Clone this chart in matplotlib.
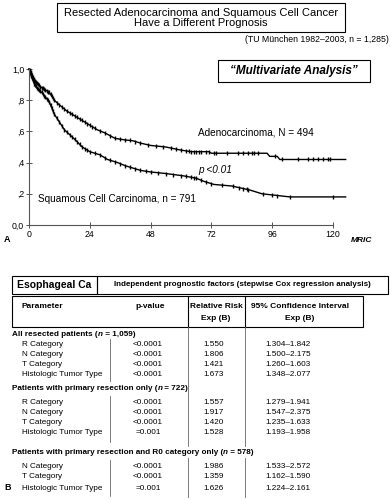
import numpy as np
import matplotlib
matplotlib.use('Agg')
import matplotlib.pyplot as plt
from matplotlib.patches import Rectangle
from matplotlib.lines import Line2D

plt.rcParams['font.family'] = ['Liberation Sans', 'DejaVu Sans']

# survival curves (months, cumulative survival)
adeno_t = [0, 1, 2, 3, 5, 8, 10, 12, 15, 18, 21, 24, 27, 30, 34, 38, 41, 44, 48, 54, 60, 64,
           71, 72, 94, 95, 98, 99, 125]
adeno_s = [1.0, 0.97, 0.93, 0.91, 0.88, 0.85, 0.80, 0.77, 0.73, 0.70, 0.67, 0.64, 0.61, 0.59,
           0.555, 0.545, 0.54, 0.525, 0.51, 0.50, 0.48, 0.47, 0.47, 0.46, 0.46, 0.44, 0.44, 0.42, 0.42]
squam_t = [0, 1, 2, 3, 5, 6, 8, 10, 12, 14, 16, 18, 21, 24, 28, 31, 35, 38, 41, 44, 48, 54, 61,
           66, 69, 73, 80, 87, 92, 103, 125]
squam_s = [1.0, 0.95, 0.91, 0.88, 0.85, 0.83, 0.79, 0.71, 0.66, 0.61, 0.58, 0.55, 0.50, 0.47,
           0.45, 0.42, 0.40, 0.38, 0.365, 0.35, 0.34, 0.33, 0.315, 0.30, 0.28, 0.26, 0.25, 0.225,
           0.20, 0.18, 0.18]
# censored observations (months)
adeno_cens = [0.3, 0.6, 0.9, 1.2, 1.5, 1.8, 2.1, 2.4, 2.7, 3, 3.5, 4, 4.5, 5, 5.5, 6, 6.5, 7, 7.5,
              8, 8.5, 9, 9.5, 10, 11, 12, 13, 14, 15, 16, 17, 18, 19, 20, 21, 22, 23, 24, 25, 26,
              28, 30, 32, 34, 36, 38, 40, 42, 44, 47, 50, 53, 56, 58, 60, 62, 63, 64, 65, 66, 67,
              68, 70, 71, 73, 74, 78, 82.5, 84.5, 86.5, 88, 89, 90.5, 97, 100, 106, 110, 112, 114,
              116, 118, 119]
squam_cens = [0.3, 0.6, 0.9, 1.2, 1.5, 1.8, 2.1, 2.4, 2.7, 3, 3.5, 4, 4.5, 5, 5.5, 6, 6.5, 7, 7.5,
              8, 8.5, 9, 9.5, 10, 11, 12, 13, 14, 15, 16, 17, 18, 19, 20, 21, 22, 23, 24, 26, 28,
              30, 32, 34, 36, 38, 40, 42, 44, 46, 48, 51, 54, 57, 60, 62, 64, 65, 66, 68, 70, 72,
              76, 80.5, 83, 84.5, 86, 86.5, 92.5, 96, 98, 103, 120]

x_ticks = [0, 24, 48, 72, 96, 120]
y_ticks = [0.0, 0.2, 0.4, 0.6, 0.8, 1.0]
y_ticklabels = ['0,0', ',2', ',4', ',6', ',8', '1,0']

# table contents
group_titles = ['All resected patients (', 'Patients with primary resection only (',
                'Patients with primary resection and R0 category only (']
group_n = [' = 1,059)', ' = 722)', ' = 578)']
params = [['R Category', 'N Category', 'T Category', 'Histologic Tumor Type'],
          ['R Category', 'N Category', 'T Category', 'Histologic Tumor Type'],
          ['N Category', 'T Category', 'Histologic Tumor Type']]
pvals = [['<0.0001', '<0.0001', '<0.0001', '<0.0001'],
         ['<0.0001', '<0.0001', '<0.0001', '=0.001'],
         ['<0.0001', '<0.0001', '=0.001']]
rel_risk = [['1.550', '1.806', '1.421', '1.673'],
            ['1.557', '1.917', '1.420', '1.528'],
            ['1.986', '1.359', '1.626']]
conf_int = [['1.304\u20131.842', '1.500\u20132.175', '1.260\u20131.603', '1.348\u20132.077'],
            ['1.279\u20131.941', '1.547\u20132.375', '1.235\u20131.633', '1.193\u20131.958'],
            ['1.533\u20132.572', '1.162\u20131.590', '1.224\u20132.161']]

W, H = 391, 500
fig = plt.figure(figsize=(W / 100, H / 100), dpi=100)


def fx(x):
    return x / W


def fy(y):
    return 1 - y / H


def box(x0, y0, x1, y1, lw=0.8):
    fig.add_artist(Rectangle((fx(x0), fy(y1)), (x1 - x0) / W, (y1 - y0) / H,
                             transform=fig.transFigure, fill=False, lw=lw, ec='black'))


def vline(x, y0, y1, lw=0.6, color='#666666'):
    fig.add_artist(Line2D([fx(x), fx(x)], [fy(y0), fy(y1)], transform=fig.transFigure,
                          lw=lw, color=color))


# ---- panel A ----
box(57, 3, 345, 32)
fig.text(fx(201), fy(18), 'Resected Adenocarcinoma and Squamous Cell Cancer\nHave a Different Prognosis',
         ha='center', va='center', fontsize=8.0, linespacing=1.0)
fig.text(fx(389), fy(40), '(TU M\u00fcnchen 1982\u20132003, n = 1,285)', ha='right', va='center',
         fontsize=6.3)
box(218, 60, 370, 82)
fig.text(fx(294), fy(71), '\u201cMultivariate Analysis\u201d', ha='center', va='center',
         fontsize=8.5, fontweight='bold', fontstyle='italic')

px_per_month = (333 - 29) / 120
ax = fig.add_axes([fx(29), fy(225), 125 * px_per_month / W, 156 / H])
ax.set_xlim(0, 125)
ax.set_ylim(0, 1)
for t, s, c in [(adeno_t, adeno_s, adeno_cens), (squam_t, squam_s, squam_cens)]:
    ax.plot(t, s, color='black', lw=1.0, clip_on=False)
    ax.plot(c, np.interp(c, t, s), ls='none', marker='|', ms=3.4, mew=1.0, color='black',
            clip_on=False)
ax.text(66.7, 0.59, 'Adenocarcinoma, N = 494', fontsize=7.2, va='center')
ax.text(66.7, 0.35, 'p <0.01', fontsize=7.2, va='center', fontstyle='italic')
ax.text(3.6, 0.167, 'Squamous Cell Carcinoma, n = 791', fontsize=7.2, va='center')
ax.spines['top'].set_visible(False)
ax.spines['right'].set_visible(False)
for sp in ['left', 'bottom']:
    ax.spines[sp].set_color('#555555')
    ax.spines[sp].set_linewidth(0.8)
ax.spines['bottom'].set_bounds(0, 120)
ax.set_xticks(x_ticks)
ax.set_xticklabels([str(v) for v in x_ticks])
ax.set_yticks(y_ticks)
ax.set_yticklabels(y_ticklabels)
ax.tick_params(direction='inout', length=4, width=0.7, color='#555555', labelsize=6.3, pad=1.5)
ax.patch.set_alpha(0)

fig.text(fx(4), fy(240), 'A', fontsize=6.5, fontweight='bold', va='center')
fig.text(fx(372), fy(240), 'MRIC', fontsize=6, fontweight='heavy', fontstyle='italic',
         ha='right', va='center')

# ---- panel B ----
box(12, 276, 97, 294)
box(97, 276, 388, 294)
fig.text(fx(54.5), fy(285), 'Esophageal Ca', ha='center', va='center', fontsize=7.5,
         fontweight='bold')
fig.text(fx(242), fy(285), 'Independent prognostic factors (stepwise Cox regression analysis)',
         ha='center', va='center', fontsize=5.8, fontweight='bold')

box(12, 296, 363, 327)
vline(188, 296, 327, lw=0.8, color='black')
vline(245, 296, 327, lw=0.8, color='black')
hfs = 6
fig.text(fx(22), fy(306), 'Parameter', fontsize=hfs, fontweight='bold', va='center')
fig.text(fx(150), fy(306), 'p-value', fontsize=hfs, fontweight='bold', va='center', ha='center')
fig.text(fx(216), fy(306), 'Relative Risk', fontsize=hfs, fontweight='bold', va='center', ha='center')
fig.text(fx(216), fy(318), 'Exp (B)', fontsize=hfs, fontweight='bold', va='center', ha='center')
fig.text(fx(300), fy(306), '95% Confidence Interval', fontsize=hfs, fontweight='bold', va='center',
         ha='center')
fig.text(fx(300), fy(318), 'Exp (B)', fontsize=hfs, fontweight='bold', va='center', ha='center')

group_y = [334, 389, 452]
row_y = [[345, 355, 365, 375], [402, 412, 423, 433], [466, 477, 488]]
vline_span = [(339, 381), (396, 442), (460, 496)]
renderer = fig.canvas.get_renderer()
bfs = 5.9
for g in range(3):
    # group title: bold text with italic n
    x = fx(12)
    for part, style in [(group_titles[g], 'normal'), ('n', 'italic'), (group_n[g], 'normal')]:
        t = fig.text(x, fy(group_y[g]), part, fontsize=bfs, fontweight='bold', fontstyle=style,
                     va='center')
        x += t.get_window_extent(renderer).width / W
    for i in range(len(params[g])):
        y = fy(row_y[g][i])
        fig.text(fx(22), y, params[g][i], fontsize=bfs, va='center')
        fig.text(fx(148), y, pvals[g][i], fontsize=bfs, va='center', ha='center')
        fig.text(fx(214), y, rel_risk[g][i], fontsize=bfs, va='center', ha='center')
        fig.text(fx(288), y, conf_int[g][i], fontsize=bfs, va='center', ha='center')
    vline(110, vline_span[g][0], vline_span[g][1])
vline(188, 327, 446)
vline(188, 458, 497)
vline(245, 327, 446)
vline(245, 458, 497)
fig.text(fx(4), fy(488), 'B', fontsize=6.5, fontweight='bold', va='center')

fig.savefig('out.png', dpi=100)
